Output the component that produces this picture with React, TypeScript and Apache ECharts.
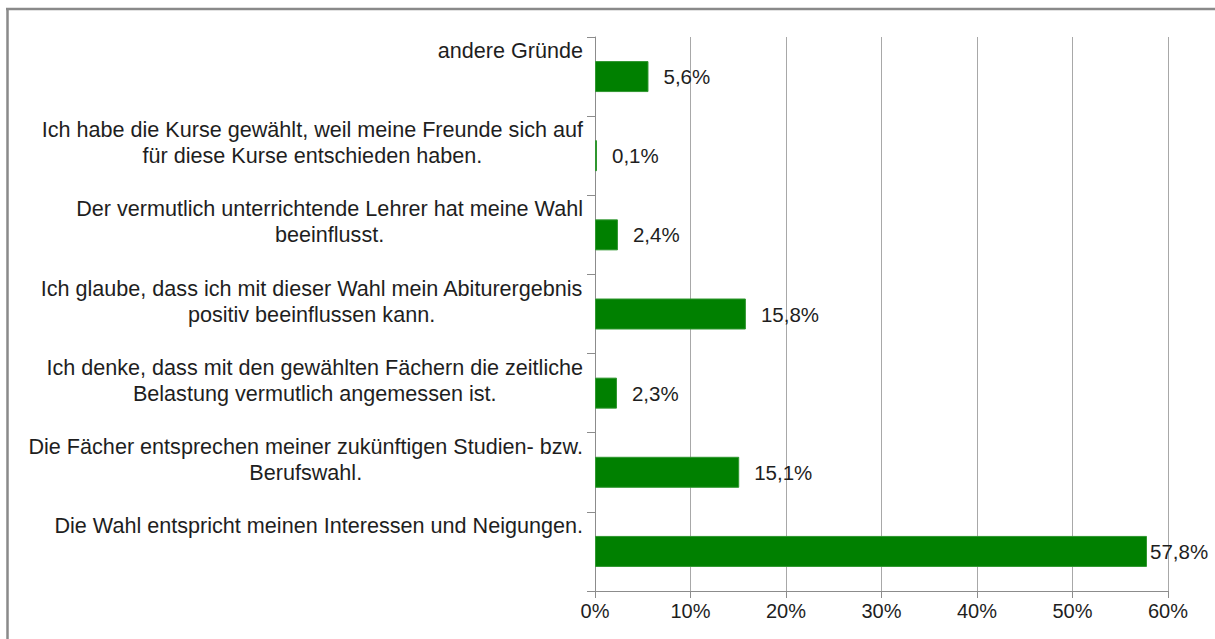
import React, { useEffect, useRef } from "react";
import * as echarts from "echarts";

const categories: string[] = [
  "Die Wahl entspricht meinen Interessen und Neigungen.",
  "Die Fächer entsprechen meiner zukünftigen Studien- bzw.\nBerufswahl.",
  "Ich denke, dass mit den gewählten Fächern die zeitliche\nBelastung vermutlich angemessen ist.",
  "Ich glaube, dass ich mit dieser Wahl mein Abiturergebnis\npositiv beeinflussen kann.",
  "Der vermutlich unterrichtende Lehrer hat meine Wahl\nbeeinflusst.",
  "Ich habe die Kurse gewählt, weil meine Freunde sich auf\nfür diese Kurse entschieden haben.",
  "andere Gründe",
];
const values: number[] = [57.8, 15.1, 2.3, 15.8, 2.4, 0.1, 5.6];
const xMin = 0;
const xMax = 60;
const xStep = 10;

const FONT = "'Liberation Sans', Arial, sans-serif";
const TEXT = "#1e1e1e";
const AXIS = "#8c8c8c";

export default function App() {
  const ref = useRef<HTMLDivElement>(null);
  useEffect(() => {
    if (!ref.current) return;
    const chart = echarts.init(ref.current, undefined, { renderer: "svg" });
    const data = values.map((v, i) =>
      i === 0 ? { value: v, label: { distance: 3 } } : { value: v }
    );
    chart.setOption({
      animation: false,
      backgroundColor: "#ffffff",
      textStyle: { fontFamily: FONT },
      grid: { left: 595, top: 37, right: 47, bottom: 48, containLabel: false },
      graphic: [
        {
          type: "line",
          shape: { x1: 7.5, y1: 9, x2: 7.5, y2: 660 },
          style: { stroke: "#8a8a8a", lineWidth: 2.5 },
        },
        {
          type: "line",
          shape: { x1: 6, y1: 9, x2: 1230, y2: 9 },
          style: { stroke: "#8a8a8a", lineWidth: 2.5 },
        },
      ],
      xAxis: {
        type: "value",
        min: xMin,
        max: xMax,
        interval: xStep,
        axisLine: { show: true, lineStyle: { color: AXIS, width: 1 } },
        axisTick: { show: true, length: 7, lineStyle: { color: AXIS } },
        splitLine: { show: true, lineStyle: { color: "#a8a8a8", width: 1 } },
        axisLabel: {
          formatter: "{value}%",
          fontSize: 20,
          color: TEXT,
          fontFamily: FONT,
          margin: 10,
        },
      },
      yAxis: {
        type: "category",
        data: categories,
        axisLine: { show: true, lineStyle: { color: AXIS, width: 1 } },
        axisTick: { show: true, length: 8, lineStyle: { color: AXIS } },
        splitLine: { show: false },
        axisLabel: {
          margin: 12,
          align: "right",
          color: TEXT,
          fontSize: 21.6,
          lineHeight: 26,
          fontFamily: FONT,
          formatter: (v: string) => {
            const lines = v.split("\n");
            while (lines.length < 3) lines.push(" ");
            return lines.map((l) => `{c|${l}}`).join("\n");
          },
          rich: {
            c: {
              align: "center",
              fontSize: 21.6,
              lineHeight: 26,
              color: TEXT,
              fontFamily: FONT,
            },
          },
        },
      },
      series: [
        {
          type: "bar",
          data,
          barWidth: 31,
          barMinHeight: 2,
          itemStyle: { color: "#008000", borderColor: "#2f962f", borderWidth: 1 },
          label: {
            show: true,
            position: "right",
            distance: 15,
            fontSize: 20.5,
            color: TEXT,
            fontFamily: FONT,
            formatter: (p: any) => `${String(p.value).replace(".", ",")}%`,
          },
        },
      ],
    });
    return () => chart.dispose();
  }, []);
  return (
    <div
      ref={ref}
      style={{ position: "absolute", left: 0, top: 0, width: 1215, height: 639 }}
    />
  );
}
